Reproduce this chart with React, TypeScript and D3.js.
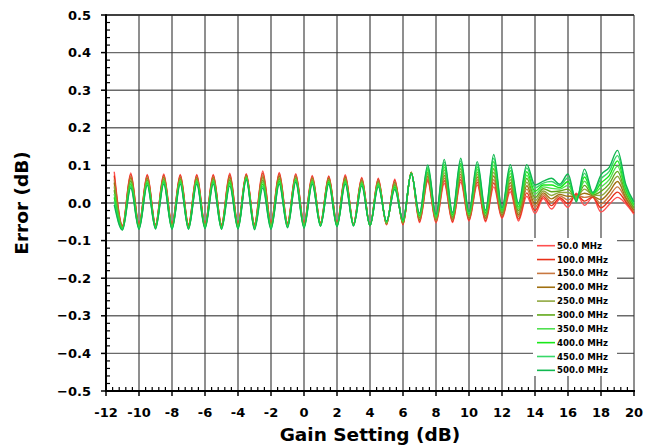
import React from 'react';
import * as d3 from 'd3';

const gainSteps = [-11.5,-11,-10.5,-10,-9.5,-9,-8.5,-8,-7.5,-7,-6.5,-6,-5.5,-5,-4.5,-4,-3.5,-3,-2.5,-2,-1.5,-1,-0.5,0,0.5,1,1.5,2,2.5,3,3.5,4,4.5,5,5.5,6,6.5,7,7.5,8,8.5,9,9.5,10,10.5,11,11.5,12,12.5,13,13.5,14,14.5,15,15.5,16,16.5,17,17.5,18,18.5,19,19.5,20];

const f50 = [.083,-.060,.080,-.056,.076,-.057,.077,-.056,.076,-.057,.076,-.056,.076,-.057,.079,-.056,.078,-.055,.085,-.052,.081,-.052,.078,-.053,.073,-.052,.072,-.054,.075,-.055,.068,-.060,.066,-.058,.063,-.058,.082,-.052,.057,-.053,.052,-.052,.055,-.048,.048,-.050,.043,-.041,.030,-.048,.018,-.028,.012,-.016,.010,-.012,.026,-.006,.015,-.024,-.004,.015,-.002,-.030];
const f100 = [.073,-.061,.076,-.058,.073,-.058,.074,-.058,.073,-.058,.073,-.057,.073,-.058,.075,-.057,.076,-.057,.080,-.054,.078,-.054,.075,-.055,.070,-.053,.070,-.055,.072,-.056,.065,-.060,.063,-.057,.060,-.057,.082,-.049,.062,-.050,.059,-.049,.062,-.045,.055,-.047,.053,-.038,.038,-.043,.027,-.020,.017,-.007,.014,-.002,.023,.005,.016,-.013,.007,.029,.004,-.026];
const f150 = [.063,-.063,.071,-.059,.070,-.060,.071,-.059,.070,-.060,.070,-.059,.070,-.060,.071,-.059,.074,-.059,.075,-.056,.074,-.055,.073,-.056,.068,-.054,.067,-.056,.069,-.056,.063,-.060,.061,-.056,.057,-.055,.081,-.046,.067,-.048,.066,-.046,.069,-.042,.062,-.043,.062,-.035,.046,-.037,.037,-.011,.022,.002,.019,.008,.021,.015,.018,-.002,.018,.043,.010,-.023];
const f200 = [.054,-.064,.067,-.061,.066,-.061,.068,-.061,.067,-.061,.067,-.060,.067,-.061,.068,-.060,.073,-.060,.070,-.058,.071,-.057,.070,-.058,.065,-.055,.065,-.057,.067,-.057,.060,-.060,.058,-.055,.054,-.054,.081,-.044,.072,-.045,.073,-.043,.076,-.040,.069,-.040,.072,-.032,.054,-.032,.046,-.003,.027,.011,.023,.018,.018,.026,.019,.009,.029,.057,.015,-.019];
const f250 = [.044,-.065,.062,-.062,.063,-.062,.065,-.062,.064,-.063,.064,-.061,.064,-.063,.064,-.062,.071,-.062,.065,-.060,.067,-.058,.068,-.059,.063,-.056,.062,-.058,.064,-.058,.058,-.060,.056,-.054,.051,-.052,.080,-.041,.077,-.043,.080,-.040,.083,-.037,.076,-.036,.081,-.029,.062,-.027,.055,.006,.032,.020,.028,.028,.016,.037,.021,.020,.040,.071,.021,-.015];
const f300 = [.034,-.067,.058,-.064,.060,-.064,.062,-.064,.062,-.064,.062,-.063,.062,-.064,.060,-.063,.069,-.064,.060,-.062,.064,-.060,.065,-.061,.060,-.058,.060,-.059,.061,-.058,.055,-.060,.053,-.052,.048,-.051,.080,-.038,.081,-.040,.088,-.037,.091,-.034,.082,-.033,.091,-.025,.070,-.021,.065,.014,.038,.030,.032,.037,.013,.047,.022,.031,.051,.084,.027,-.012];
const f350 = [.024,-.068,.053,-.065,.057,-.065,.059,-.065,.059,-.066,.059,-.064,.059,-.066,.056,-.065,.067,-.066,.055,-.064,.060,-.061,.063,-.062,.058,-.059,.057,-.060,.058,-.059,.053,-.060,.051,-.051,.045,-.049,.079,-.035,.086,-.038,.095,-.034,.098,-.031,.089,-.029,.100,-.022,.078,-.016,.074,.023,.043,.039,.037,.047,.011,.058,.024,.042,.062,.098,.033,-.008];
const f400 = [.015,-.069,.049,-.067,.053,-.066,.056,-.067,.056,-.067,.056,-.065,.056,-.067,.053,-.066,.066,-.067,.050,-.066,.057,-.063,.060,-.064,.055,-.060,.055,-.061,.056,-.060,.050,-.060,.048,-.050,.042,-.048,.079,-.033,.091,-.035,.102,-.031,.105,-.029,.096,-.026,.110,-.019,.086,-.011,.083,.031,.048,.048,.041,.057,.008,.069,.025,.053,.073,.112,.038,-.004];
const f450 = [.005,-.071,.044,-.068,.050,-.068,.053,-.068,.053,-.069,.053,-.067,.053,-.069,.049,-.068,.064,-.069,.045,-.068,.053,-.064,.058,-.065,.053,-.061,.052,-.062,.053,-.060,.048,-.060,.046,-.049,.039,-.046,.078,-.030,.096,-.033,.109,-.028,.112,-.026,.103,-.022,.119,-.016,.094,-.005,.093,.040,.053,.057,.046,.067,.006,.079,.027,.064,.084,.126,.044,-.001];
const f500 = [-.005,-.072,.040,-.070,.047,-.069,.050,-.070,.050,-.070,.050,-.068,.050,-.070,.045,-.069,.062,-.071,.040,-.070,.050,-.066,.055,-.067,.050,-.062,.050,-.063,.050,-.061,.045,-.060,.043,-.048,.036,-.045,.078,-.027,.101,-.030,.116,-.025,.119,-.023,.110,-.019,.129,-.013,.102,.000,.102,.048,.058,.066,.050,.077,.003,.090,.028,.075,.095,.140,.050,.003];

const seriesNames = ['50.0 MHz','100.0 MHz','150.0 MHz','200.0 MHz','250.0 MHz','300.0 MHz','350.0 MHz','400.0 MHz','450.0 MHz','500.0 MHz'];
const seriesColors = ['#ff5050','#e83018','#c87840','#a07010','#90a840','#60a818','#50e050','#18e818','#38d868','#10b850'];

const xTickValues = [-12,-10,-8,-6,-4,-2,0,2,4,6,8,10,12,14,16,18,20];
const yTickValues = [-0.5,-0.4,-0.3,-0.2,-0.1,0,0.1,0.2,0.3,0.4,0.5];

const FONT = '"DejaVu Sans", Verdana, sans-serif';

export default function App() {
  const W = 645, H = 446;
  const L = 106, R = 634, T = 15, B = 391;
  const x = d3.scaleLinear().domain([-12, 20]).range([L, R]);
  const y = d3.scaleLinear().domain([-0.5, 0.5]).range([B, T]);
  const series = [f50, f100, f150, f200, f250, f300, f350, f400, f450, f500];
  const line = d3.line<number>()
    .x((_, i) => x(gainSteps[i]))
    .y((d) => y(d))
    .curve(d3.curveMonotoneX);

  const xMinor = d3.range(0, 81).map((i) => -12 + i * 0.4).filter((v) => Math.abs(v / 2 - Math.round(v / 2)) > 0.01);
  const yMinor = d3.range(0, 51).map((i) => -0.5 + i * 0.02).filter((v) => Math.abs(v * 10 - Math.round(v * 10)) > 0.01);
  const fmt = d3.format('.1f');

  const legX = 533, legY = 238, legW = 84, legH = 138;
  const rowY = (i: number) => 245.7 + i * 13.85;

  return (
    <svg width={W} height={H} style={{ position: 'absolute', left: 0, top: 0, background: '#fff' }} fontFamily={FONT}>
      <rect x={0} y={0} width={W} height={H} fill="#fff" />
      {yTickValues.map((v) => (
        <line key={'hg' + v} x1={L} x2={R} y1={y(v)} y2={y(v)} stroke={v === 0.5 ? '#000' : '#6a6a6a'} strokeWidth={v === 0.5 ? 1.5 : 1.4} />
      ))}
      {xTickValues.filter((v) => v > -12).map((v) => (
        <line key={'vg' + v} x1={x(v)} x2={x(v)} y1={T} y2={B} stroke="#333" strokeWidth={1.1} />
      ))}
      <g fill="none" strokeWidth={1.4} strokeLinejoin="round">
        {series.map((s, k) => (
          <path key={'s' + k} d={line(s) || ''} stroke={seriesColors[k]} />
        ))}
      </g>
      <rect x={legX} y={legY} width={legW} height={legH} fill="#fff" />
      {seriesNames.map((n, i) => (
        <g key={'lg' + i}>
          <line x1={537} x2={555} y1={rowY(i)} y2={rowY(i)} stroke={seriesColors[i]} strokeWidth={1.6} />
          <text x={557} y={rowY(i)} dy="0.35em" fontSize={8.6} fontWeight="bold" fill="#000">{n}</text>
        </g>
      ))}
      <line x1={L} x2={L} y1={T - 0.75} y2={B + 1} stroke="#000" strokeWidth={2} />
      <line x1={L - 1} x2={R + 1} y1={B} y2={B} stroke="#000" strokeWidth={2} />
      {yTickValues.map((v) => (
        <line key={'yt' + v} x1={L - 5} x2={L} y1={y(v)} y2={y(v)} stroke="#000" strokeWidth={1.5} />
      ))}
      {yMinor.map((v, i) => (
        <line key={'ym' + i} x1={L} x2={L + 4} y1={y(v)} y2={y(v)} stroke="#000" strokeWidth={1.2} />
      ))}
      {xTickValues.map((v) => (
        <line key={'xt' + v} x1={x(v)} x2={x(v)} y1={B} y2={B + 5} stroke="#000" strokeWidth={1.5} />
      ))}
      {xMinor.map((v, i) => (
        <line key={'xm' + i} x1={x(v)} x2={x(v)} y1={B} y2={B - 4} stroke="#000" strokeWidth={1.2} />
      ))}
      {yTickValues.map((v) => (
        <text key={'yl' + v} x={91} y={y(v)} dy="0.36em" textAnchor="end" fontSize={13} fontWeight="bold" fill="#000">{fmt(v)}</text>
      ))}
      {xTickValues.map((v) => (
        <text key={'xl' + v} x={x(v)} y={417} textAnchor="middle" fontSize={13} fontWeight="bold" fill="#000">{String(v)}</text>
      ))}
      <text x={(L + R) / 2} y={441} textAnchor="middle" fontSize={18.5} fontWeight="bold" fill="#000">Gain Setting (dB)</text>
      <text transform={`translate(28,${(T + B) / 2}) rotate(-90)`} textAnchor="middle" fontSize={18.5} fontWeight="bold" fill="#000">Error (dB)</text>
    </svg>
  );
}
